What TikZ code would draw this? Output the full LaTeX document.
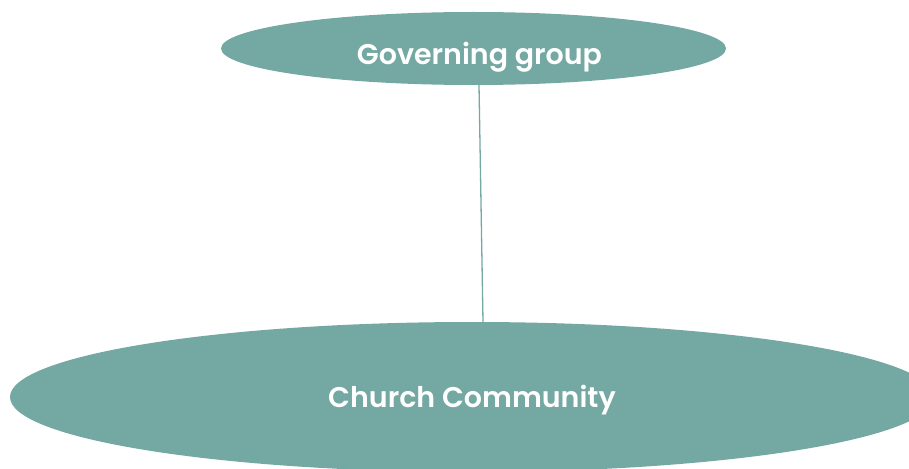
\documentclass[tikz,border=0pt]{standalone}
\usepackage{fontspec}
\setmainfont{Poppins}[BoldFont={Poppins SemiBold}]
\usetikzlibrary{shapes.geometric}
\definecolor{teal}{HTML}{74A8A3}
\begin{document}
\begin{tikzpicture}[x=1pt,y=-1pt,
  bubble/.style={ellipse, fill=teal, draw=none, inner sep=0pt, text=white,
    text depth=1pt, font=\bfseries\fontsize{28.5}{32}\selectfont}]
\useasboundingbox (0,0) rectangle (909,468);
\clip (0,0) rectangle (909,468);
\node[bubble, text height=34pt, minimum width=505, minimum height=73] (gov) at (473.5,48.5) {\hspace*{12pt}Governing group};
\node[bubble, text height=21pt, minimum width=924, minimum height=150] (church) at (472,397) {Church Community};
\draw[teal, line width=1.3pt] ([xshift=5.5pt]gov.south) -- ([xshift=11pt]church.north);
\end{tikzpicture}
\end{document}
